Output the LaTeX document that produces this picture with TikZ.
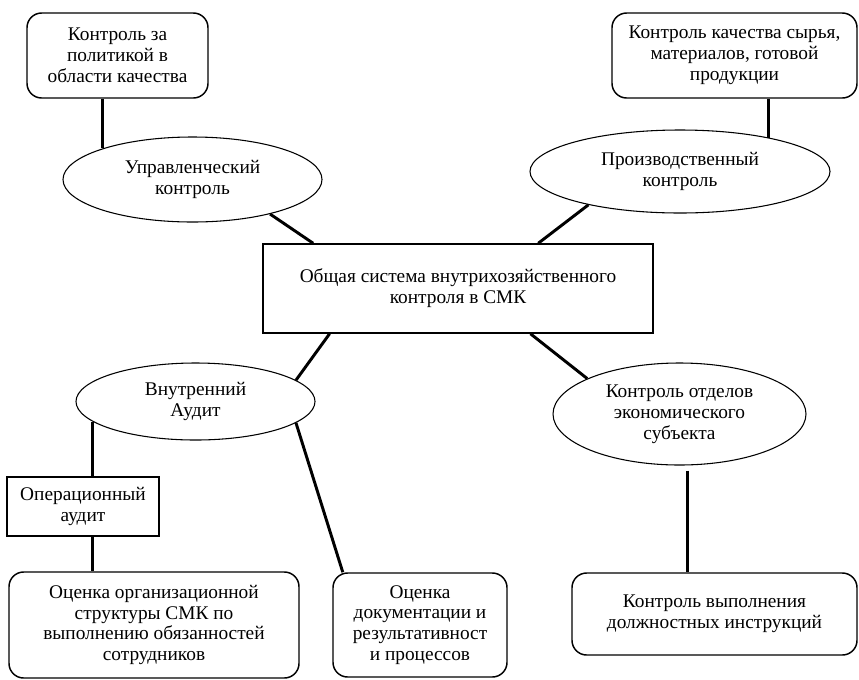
\documentclass[tikz,border=0pt]{standalone}
\usepackage{fontspec}
\setmainfont{Liberation Serif}
\usetikzlibrary{shapes.geometric,calc}

\begin{document}
\begin{tikzpicture}[x=0.75pt,y=-0.75pt,
  every node/.style={font=\fontsize{14.5}{15.6}\selectfont, align=center, inner sep=1pt},
  rbox/.style={draw, rounded corners=11pt, line width=1.1pt},
  ellbox/.style={draw, ellipse, line width=0.8pt},
  conn/.style={line width=2.2pt}]
  \useasboundingbox (0,0) rectangle (859,679);
  % top row
  \node[rbox, minimum width=135.75pt, minimum height=63.75pt] (policy) at (117.5,55.5) {Контроль за\\политикой в\\области качества};
  \node[rbox, minimum width=183.75pt, minimum height=63.75pt] (rawmat) at (734.5,55.5) {Контроль качества сырья,\\материалов, готовой\\продукции};
  \node[ellbox, minimum width=194.25pt, minimum height=63.75pt] (mgmt) at (192.5,179.5) {Управленческий\\контроль};
  \node[ellbox, minimum width=225pt, minimum height=62.25pt] (prod) at (680,171.5) {Производственный\\контроль};
  % centre
  \node[draw, line width=1.1pt, minimum width=292.5pt, minimum height=66.75pt] (core) at (458,288.5) {Общая система внутрихозяйственного\\контроля в СМК};
  % middle row
  \node[ellbox, minimum width=179.25pt, minimum height=57.75pt] (audit) at (195.5,401.5) {Внутренний\\Аудит};
  \node[ellbox, minimum width=189.75pt, minimum height=76.5pt] (depts) at (679.5,414) {Контроль отделов\\экономического\\субъекта};
  \node[draw, line width=2.2pt, minimum width=114pt, minimum height=44.25pt] (oper) at (83,506.5) {Операционный\\аудит};
  % bottom row
  \node[rbox, minimum width=217.5pt, minimum height=79.5pt] (orgs) at (154,625) {Оценка организационной\\структуры СМК по\\выполнению обязанностей\\сотрудников};
  \node[rbox, minimum width=130.5pt, minimum height=78pt] (docs) at (420,625) {Оценка\\документации и\\результативност\\и процессов};
  \node[rbox, minimum width=213.75pt, minimum height=61.5pt] (instr) at (714.5,614) {Контроль выполнения\\должностных инструкций};
  \coordinate (deptfoot) at ($(depts.south)+(8,5)$);

  \draw[conn] (policy.south -| mgmt.161) -- (mgmt.161);
  \draw[conn] (rawmat.south -| prod.21) -- (prod.21);
  \draw[conn] (mgmt.-24) -- ($(core.north west)!0.13!(core.north east)$);
  \draw[conn] (prod.200) -- ($(core.north west)!0.705!(core.north east)$);
  \draw[conn] ($(core.south west)!0.172!(core.south east)$) -- (audit.12);
  \draw[conn] ($(core.south west)!0.685!(core.south east)$) -- (depts.159);
  \draw[conn] (audit.191) -- (audit.191 |- oper.north);
  \draw[conn] (audit.191 |- oper.south) -- (audit.191 |- orgs.north);
  \draw[conn] (audit.-12) -- ($(docs.north west)!0.06!(docs.north east)$);
  \draw[conn] (deptfoot) -- (deptfoot |- instr.north);
\end{tikzpicture}
\end{document}
